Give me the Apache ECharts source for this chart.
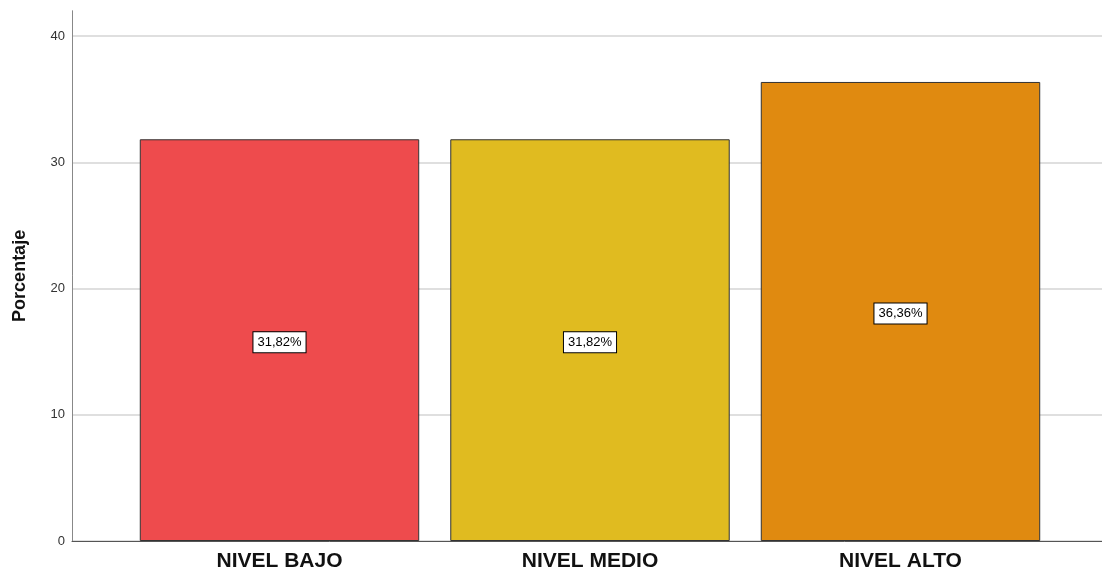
<!DOCTYPE html>
<html>
<head>
<meta charset="utf-8">
<script src="https://cdn.jsdelivr.net/npm/echarts@6/dist/echarts.min.js"></script>
<style>html,body{margin:0;padding:0;background:#fff}#c{width:1102px;height:573px}</style>
</head>
<body>
<div id="c"></div>
<script>
const categories = ['NIVEL BAJO', 'NIVEL MEDIO', 'NIVEL ALTO'];
const percentages = [31.82, 31.82, 36.36];
const barColors = ['#EE4B4D', '#E0BB20', '#E08A10'];
const yTicks = { min: 0, max: 42, interval: 10 };

const chart = echarts.init(document.getElementById('c'));
chart.setOption({
  animation: false,
  grid: [
    { left: 72, right: 0, top: 10.75, bottom: 32, containLabel: false, outerBoundsMode: 'none' },
    { left: 124.25, right: 46.25, top: 10.75, bottom: 32, containLabel: false, outerBoundsMode: 'none' }
  ],
  xAxis: [
    { gridIndex: 0, type: 'category', data: [''], axisLine: { lineStyle: { color: '#555', width: 1 } }, axisTick: { show: false }, axisLabel: { show: false } },
    { gridIndex: 1, type: 'category', data: categories, axisLine: { show: false }, axisTick: { show: false },
      axisLabel: { margin: 10, fontFamily: 'Arial, Liberation Sans, sans-serif', fontSize: 21, fontWeight: 'bold', color: '#111' } }
  ],
  yAxis: [
    { gridIndex: 0, type: 'value', min: yTicks.min, max: yTicks.max, interval: yTicks.interval,
      name: 'Porcentaje', nameLocation: 'middle', nameGap: 43, nameRotate: 90,
      nameTextStyle: { fontFamily: 'Arial, Liberation Sans, sans-serif', fontSize: 18, fontWeight: 'bold', color: '#111' },
      axisLine: { show: true, lineStyle: { color: '#888', width: 1 } }, axisTick: { show: false },
      axisLabel: { margin: 7, fontFamily: 'Arial, Liberation Sans, sans-serif', fontSize: 13, color: '#333',
        showMaxLabel: false, formatter: v => (v % 10 === 0 ? String(v) : '') },
      splitLine: { show: true, showMaxLine: false, lineStyle: { color: '#d4d4d4', width: 1.5 } } },
    { gridIndex: 1, type: 'value', min: yTicks.min, max: yTicks.max, interval: yTicks.interval, show: false, splitLine: { show: false } }
  ],
  series: [{
    type: 'bar', xAxisIndex: 1, yAxisIndex: 1, barWidth: '90%',
    data: percentages.map((v, i) => ({ value: v, itemStyle: { color: barColors[i] } })),
    itemStyle: { borderColor: '#333', borderWidth: 1 },
    label: { show: true, position: 'inside', offset: [0, 2], formatter: p => p.value.toFixed(2).replace('.', ',') + '%',
      fontFamily: 'Arial, Liberation Sans, sans-serif', fontSize: 13, color: '#000', backgroundColor: '#fff',
      borderColor: '#000', borderWidth: 1, padding: [4, 4, 3, 4] }
  }]
});
</script>
</body>
</html>
